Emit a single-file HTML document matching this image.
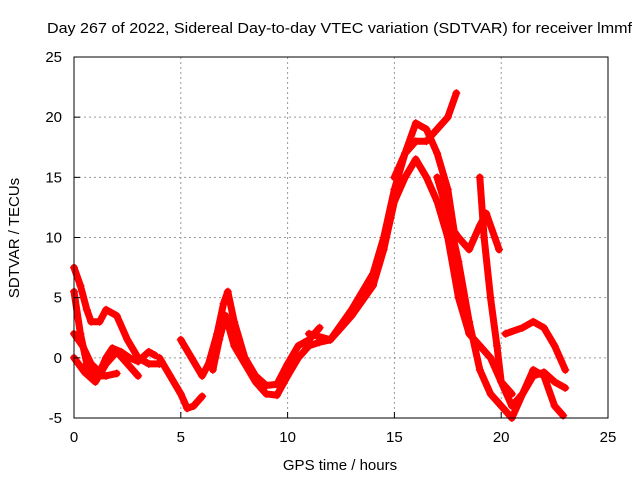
<!DOCTYPE html>
<html><head><meta charset="utf-8"><style>
body{margin:0;background:#fff}
svg text{font-family:"Liberation Sans",sans-serif;font-size:14px;fill:#000}
</style></head><body>
<svg id="c" width="640" height="480" xmlns="http://www.w3.org/2000/svg">
<rect width="640" height="480" fill="#fff"/>
<g id="grid"></g>
<g id="series"></g>
<rect x="74" y="57" width="534" height="361" fill="none" stroke="#000" stroke-width="1"/>
<g id="ticks"></g>
<text x="47" y="33" textLength="585" lengthAdjust="spacingAndGlyphs" style="font-size:15px">Day 267 of 2022, Sidereal Day-to-day VTEC variation (SDTVAR) for receiver lmmf</text>
<text x="340" y="470" text-anchor="middle" style="font-size:15px">GPS time / hours</text>
<text transform="translate(19,238) rotate(-90)" text-anchor="middle" style="font-size:15px">SDTVAR / TECUs</text>
</svg>
<script>
const xTicks=[0,5,10,15,20,25];
const yTicks=[-5,0,5,10,15,20,25];
const track1=[[0,7.5],[0.3,6],[0.6,4],[0.8,3],[1.2,3],[1.5,4],[2,3.5],[2.5,1.5],[3,0],[3.5,-0.5],[4,-0.5]];
const track2=[[0,5.5],[0.3,2],[0.6,-0.5],[1,-1.5],[1.5,-1.5],[2,-1.3]];
const track3=[[0,2],[0.4,1],[0.8,-0.5],[1.2,-1.2],[1.5,0],[1.8,0.8],[2.2,0.5],[2.6,0],[3,-0.3],[3.5,0.5],[3.8,0.2]];
const track4=[[0,0],[0.5,-1.2],[1,-2],[1.5,-0.5],[2,0.5],[2.5,-0.5],[3,-1.5]];
const track5=[[4,0],[4.5,-1.5],[5,-3],[5.3,-4.2],[5.6,-4],[6,-3.2]];
const track6=[[5,1.5],[5.5,0],[6,-1.5],[6.3,-0.5],[6.7,2],[7,4.5],[7.2,5.5],[7.5,3],[8,0],[8.5,-1.5],[9,-2.3],[9.5,-2.2],[10,-0.5],[10.5,1],[11,1.5],[11.5,2.5]];
const track7=[[6.5,-1],[6.8,1.5],[7.1,3.5],[7.5,1],[8,-0.5],[8.5,-2],[9,-3],[9.5,-3.1],[10,-1.5],[10.5,0],[11,1],[11.5,1.3],[12,1.5],[12.5,2.5],[13,3.5],[14,6],[14.5,9],[15,13],[15.5,15],[16,16.5],[16.5,15],[17,13],[17.5,10],[18,5],[18.5,2],[19,1],[19.5,0],[20,-2],[20.5,-4],[21,-3],[21.5,-1.5],[22,-1.2],[22.5,-2],[23,-2.5]];
const track8=[[11,2],[12,1.5],[13,4],[14,7],[14.5,10],[15,14],[15.5,17],[16,19.5],[16.5,19],[17,17],[17.5,14],[17.8,10.5],[18,10],[18.5,9],[19,11],[19.3,12],[19.7,10],[19.9,9]];
const track9=[[15,15],[15.5,17],[16,18],[16.5,18],[17,19],[17.5,20],[17.9,22]];
const track10=[[17,15],[17.5,12],[18,8],[18.5,3],[19,-1],[19.5,-3],[20,-4],[20.5,-5],[21,-3],[21.5,-1],[22,-1.5],[22.5,-4],[22.9,-4.8]];
const track11=[[19,15],[19.2,10],[19.5,5],[19.8,1],[20,-2],[20.5,-3]];
const track12=[[20.2,2],[21,2.5],[21.5,3],[22,2.5],[22.5,1],[23,-1]];
const tracks=[track1,track2,track3,track4,track5,track6,track7,track8,track9,track10,track11,track12];
const X0=74,X1=608,Y0=418,Y1=57;
const sx=v=>X0+(v-0)/(25-0)*(X1-X0);
const sy=v=>Y0-(v+5)/(30)*(Y0-Y1);
const NS="http://www.w3.org/2000/svg";
const grid=document.getElementById('grid'),tk=document.getElementById('ticks'),ser=document.getElementById('series');
function mk(t,a,p){const e=document.createElementNS(NS,t);for(const k in a)e.setAttribute(k,a[k]);p.appendChild(e);return e;}
xTicks.forEach(v=>{
 if(v>0&&v<25){const g=mk('line',{x1:sx(v),x2:sx(v),y1:Y1,y2:Y0,stroke:'#999','stroke-dasharray':'2,3'},grid);
 
 }
 const t=mk('text',{x:sx(v),y:Y0+24,'text-anchor':'middle',style:'font-size:15px'},tk);t.textContent=v;
 
 
 mk('line',{x1:sx(v),x2:sx(v),y1:Y0,y2:Y0-6,stroke:'#000'},tk);
});
yTicks.forEach(v=>{
 if(v>-5&&v<25){const g=mk('line',{x1:X0,x2:X1,y1:sy(v),y2:sy(v),stroke:'#999','stroke-dasharray':'2,3'},grid);
 
 }
 const t=mk('text',{x:X0-12,y:sy(v)+5,'text-anchor':'end',style:'font-size:15px'},tk);t.textContent=v;
 
 
 mk('line',{x1:X0,x2:X0+6,y1:sy(v),y2:sy(v),stroke:'#000'},tk);
});
tracks.forEach((tr,i)=>{
 const pl=mk('polyline',{points:tr.map(p=>sx(p[0])+','+sy(p[1])).join(' '),fill:'none',stroke:'#f00','stroke-width':7,'stroke-linejoin':'round','stroke-linecap':'round'},ser);
 
 
 tr.forEach(p=>{const x=sx(p[0]),y=sy(p[1]);
  const m=mk('path',{d:`M${x-4},${y}h8M${x},${y-4}v8`,stroke:'#f00','stroke-width':1.2},ser);
  
  });
});
</script>
</body></html>
